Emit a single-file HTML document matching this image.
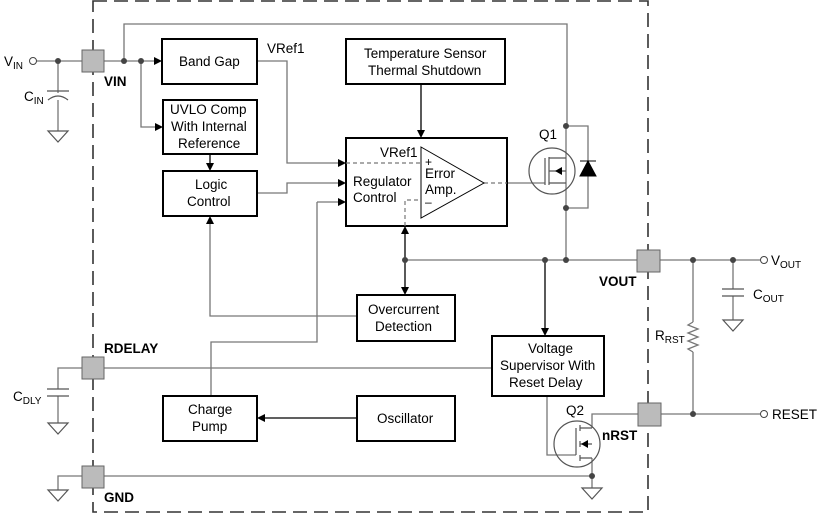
<!DOCTYPE html>
<html><head><style>body{margin:0;background:#fff}svg{display:block}text{font-family:"Liberation Sans",Arial,sans-serif;font-size:13.5px;fill:#000}.b{font-weight:bold}</style></head><body>
<svg width="820" height="514" viewBox="0 0 820 514">
<g fill="none" stroke="#222" stroke-width="1.6">
<rect x="93" y="1" width="555" height="511" stroke-dasharray="14,7" stroke="#333"/>
</g>
<g fill="none" stroke="#777" stroke-width="1.3">
<path d="M36,61H82M104,61H154"/>
<path d="M58,61V93M58,100V131"/>
<path d="M124,61V24H567V126"/>
<path d="M141,61V127H155"/>
<path d="M257,61H287V163H338"/>
<path d="M257,193H287V183H338"/>
<path d="M317,202H338M317,202V342H211V396"/>
<path d="M357,316H210V224"/>
<path d="M507,183H545"/>
<path d="M566,126V260M566,126H588V208H566"/>
<path d="M405,260H637M660,260H761"/>
<path d="M693,260V322M693,352V414"/>
<path d="M733,260V289M733,296V320"/>
<path d="M104,368H492M82,368H58V389M58,396V423"/>
<path d="M104,476H592M82,476H58V490"/>
<path d="M547,396V455H576"/>
<path d="M638,414H592V428M592,458V488"/>
<path d="M660,414H761"/>
<path d="M693,322l-5,3l10,4l-10,4l10,4l-10,4l10,4l-10,4l5,3"/>
</g>
<g fill="none" stroke="#000" stroke-width="1.3">
<path d="M421,84V132M210,154V165M405,232V288M545,260V330M357,418H263M154,61H156M155,127H157"/>
</g>
<g fill="#000">
<path d="M162,61l-8,-4v8z"/>
<path d="M163,127l-8,-4v8z"/>
<path d="M346,163l-8,-4v8z"/>
<path d="M346,183l-8,-4v8z"/>
<path d="M346,202l-8,-4v8z"/>
<path d="M421,138l-4,-8h8z"/>
<path d="M210,171l-4,-8h8z"/>
<path d="M210,216l-4,8h8z"/>
<path d="M405,226l-4,8h8z"/>
<path d="M405,295l-4,-8h8z"/>
<path d="M545,336l-4,-8h8z"/>
<path d="M257,418l8,-4v8z"/>
</g>
<g fill="#fff" stroke="#000" stroke-width="2">
<rect x="162" y="39" width="95" height="45"/>
<rect x="163" y="100" width="94" height="54"/>
<rect x="163" y="171" width="94" height="45"/>
<rect x="346" y="39" width="159" height="45"/>
<rect x="346" y="138" width="161" height="88"/>
<rect x="357" y="295" width="98" height="46"/>
<rect x="492" y="336" width="112" height="60"/>
<rect x="163" y="396" width="94" height="45"/>
<rect x="357" y="396" width="98" height="45"/>
</g>
<g fill="none" stroke="#777" stroke-width="1.2" stroke-dasharray="4,3">
<path d="M346,163H421M484,183H507M405,226V200H421"/>
</g>
<path d="M421,147L484,183L421,218Z" fill="#fff" stroke="#000" stroke-width="1"/>
<g fill="#bbb" stroke="#666" stroke-width="1">
<rect x="82" y="50" width="22" height="22"/><rect x="637" y="250" width="23" height="22"/>
<rect x="82" y="357" width="22" height="22"/><rect x="82" y="466" width="22" height="22"/>
<rect x="638" y="403" width="23" height="23"/>
</g>
<g fill="#444">
<circle cx="58" cy="61" r="3"/><circle cx="124" cy="61" r="3"/><circle cx="141" cy="61" r="3"/>
<circle cx="566" cy="126" r="3"/><circle cx="566" cy="208" r="3"/><circle cx="566" cy="260" r="3"/>
<circle cx="545" cy="260" r="3"/><circle cx="405" cy="260" r="3"/><circle cx="693" cy="260" r="3"/>
<circle cx="733" cy="260" r="3"/><circle cx="693" cy="414" r="3"/><circle cx="592" cy="476" r="3"/>
</g>
<g fill="#fff" stroke="#444" stroke-width="1"><circle cx="33" cy="61" r="3.5"/><circle cx="764" cy="260" r="3.5"/><circle cx="764" cy="414" r="3.5"/></g>
<g fill="none" stroke="#555" stroke-width="1.2">
<path d="M47,91H69M48,100Q58,92 68,100"/>
<path d="M722,289H744M722,296H744"/>
<path d="M47,389H69M47,396H69"/>
<path d="M48,131H68L58,142Z M48,423H68L58,434Z M48,490H68L58,501Z M723,320H743L733,331Z M582,488H602L592,499Z"/>
<circle cx="552" cy="171" r="23"/>
<path d="M545,158V185M549,157V185M549,158H566M549,183H566M549,171H566"/>
<circle cx="577" cy="444" r="23"/>
<path d="M576,428V455M580,425V431M580,441V447M580,455V461M580,428H592M580,444H592M580,458H592"/>
</g>
<path d="M588,161L580,176H596Z M580,161H596" fill="#000" stroke="#000"/>
<path d="M555,171l7,-4v8z M581,444l7,-4v8z" fill="#000"/>
<text x="179" y="66">Band Gap</text>
<text x="267" y="53">VRef1</text>
<text x="170" y="114">UVLO Comp</text>
<text x="171" y="131">With Internal</text>
<text x="178" y="148">Reference</text>
<text x="195" y="189">Logic</text>
<text x="187" y="206">Control</text>
<text x="364" y="58">Temperature Sensor</text>
<text x="368" y="75">Thermal Shutdown</text>
<text x="380" y="157">VRef1</text>
<text x="353" y="186">Regulator</text>
<text x="353" y="202">Control</text>
<text x="425" y="166" style="font-size:12px">+</text>
<text x="425" y="178">Error</text>
<text x="425" y="194">Amp.</text>
<text x="425" y="206" style="font-size:12px">–</text>
<text x="539" y="139">Q1</text>
<text x="368" y="314">Overcurrent</text>
<text x="375" y="331">Detection</text>
<text x="528" y="353">Voltage</text>
<text x="500" y="370">Supervisor With</text>
<text x="509" y="387">Reset Delay</text>
<text x="188" y="414">Charge</text>
<text x="192" y="431">Pump</text>
<text x="377" y="423">Oscillator</text>
<text x="566" y="415">Q2</text>
<text x="104" y="86" class="b">VIN</text>
<text x="599" y="286" class="b">VOUT</text>
<text x="104" y="353" class="b">RDELAY</text>
<text x="104" y="502" class="b">GND</text>
<text x="602" y="440" class="b">nRST</text>
<text x="4" y="66">V<tspan font-size="10" dy="3">IN</tspan></text>
<text x="24" y="101">C<tspan font-size="10" dy="3">IN</tspan></text>
<text x="13" y="401">C<tspan font-size="10" dy="3">DLY</tspan></text>
<text x="771" y="265">V<tspan font-size="10" dy="3">OUT</tspan></text>
<text x="753" y="299">C<tspan font-size="10" dy="3">OUT</tspan></text>
<text x="655" y="340">R<tspan font-size="10" dy="3">RST</tspan></text>
<text x="772" y="419">RESET</text>
</svg>
</body></html>
